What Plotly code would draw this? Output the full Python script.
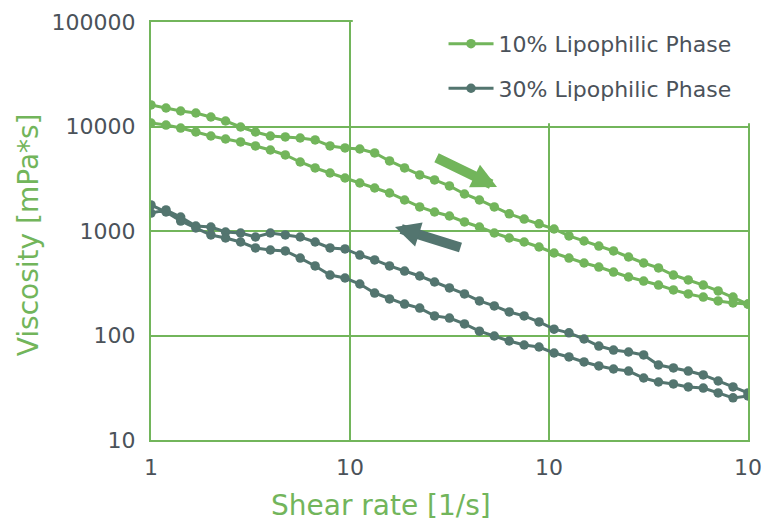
import plotly.graph_objects as go

# Shear rate grid [1/s]
shear_rate = [1, 1.19, 1.41, 1.68, 2, 2.37, 2.82, 3.35, 3.98, 4.73, 5.62, 6.68, 7.94, 9.44,
              11.2, 13.3, 15.8, 18.8, 22.4, 26.6, 31.6, 37.6, 44.7, 53.1, 63.1, 75, 89.1,
              106, 126, 150, 178, 211, 251, 299, 355, 422, 501, 596, 708, 841, 1000]

# 10% lipophilic phase: up sweep and down sweep (viscosity mPa*s)
visc10_up = [16070, 15030, 14070, 13460, 12330, 11290, 9890, 8860, 8110, 7940, 7760, 7430, 6510,
             6230, 6090, 5580, 4680, 4010, 3440, 3080, 2700, 2260, 1980, 1700, 1460, 1300, 1170,
             1045, 896, 802, 718, 644, 564, 494, 443, 379, 340, 304, 267, 233, 200]
visc10_down = [10800, 10330, 9670, 8860, 8110, 7590, 7110, 6510, 5960, 5340, 4575, 4010, 3590,
               3215, 2880, 2580, 2310, 1980, 1700, 1520, 1392, 1220, 1092, 957, 857, 785, 703,
               616, 551, 494, 452, 405, 363, 332, 304, 273, 250, 233, 214, 205, 200]

# 30% lipophilic phase
visc30_up = [1486, 1589, 1361, 1116, 1092, 978, 957, 876, 957, 916, 876, 785, 688, 673, 589,
             528, 463, 414, 371, 325, 285, 250, 214, 192, 168, 154, 135, 115, 106, 92.6, 79.3,
             72.6, 69.5, 65.1, 52.2, 48.9, 45.7, 41.9, 36.7, 32.2, 28.2]
visc30_down = [1774, 1520, 1246, 1068, 916, 857, 785, 688, 658, 644, 551, 463, 379, 355, 311,
               255, 224, 200, 183, 154, 147, 129, 110, 98.9, 88.6, 81.1, 77.6, 68.0, 62.3, 55.8,
               51.1, 47.8, 45.7, 39.2, 35.9, 34.4, 32.2, 31.4, 28.2, 25.3, 26.4]

series_names = ["10% Lipophilic Phase", "30% Lipophilic Phase"]
x_tickvals = [1, 10, 100, 1000]
x_ticktext = ["1", "10", "10", "10"]
y_tickvals = [10, 100, 1000, 10000, 100000]
y_ticktext = ["10", "100", "1000", "10000", "100000"]

GREEN = "#72b55b"
DARK = "#53756f"
GRAY = "#4b525a"
FONT = "DejaVu Sans"

fig = go.Figure()
for name, up, down, col, grp in [(series_names[0], visc10_up, visc10_down, GREEN, "a"),
                                 (series_names[1], visc30_up, visc30_down, DARK, "b")]:
    fig.add_trace(go.Scatter(
        x=shear_rate + shear_rate[::-1],
        y=up + down[::-1],
        mode="lines+markers",
        name=name,
        legendgroup=grp,
        line=dict(color=col, width=3),
        marker=dict(color=col, size=9.5),
    ))

axis_common = dict(type="log", showgrid=True, gridcolor=GREEN, gridwidth=2,
                   showline=True, linecolor=GREEN, linewidth=2, mirror=True,
                   zeroline=False, ticks="", automargin=False,
                   tickfont=dict(family=FONT, size=22, color=GRAY))

fig.update_xaxes(range=[0, 3], tickvals=x_tickvals, ticktext=x_ticktext,
                 ticklabelstandoff=7, **axis_common)
fig.update_yaxes(range=[1, 5], tickvals=y_tickvals, ticktext=y_ticktext,
                 ticklabelstandoff=9, **axis_common)

# white area behind the legend
fig.add_shape(type="rect", xref="paper", yref="paper", x0=0.338, x1=1.1, y0=0.7575, y1=1.1,
              fillcolor="white", line=dict(width=0), layer="above")

annotations = [
    dict(text="Shear rate [1/s]", xref="paper", yref="paper", x=0.385, y=-0.156,
         xanchor="center", yanchor="middle", showarrow=False,
         font=dict(family=FONT, size=28, color=GREEN)),
    dict(text="Viscosity [mPa*s]", xref="paper", yref="paper", x=-0.206, y=0.49,
         xanchor="center", yanchor="middle", showarrow=False, textangle=-90,
         font=dict(family=FONT, size=28, color=GREEN)),
    # sweep direction arrows
    dict(text="", xref="paper", yref="paper", x=0.5796, y=0.6053, ax=-62, ay=-30,
         showarrow=True, arrowhead=2, arrowsize=0.5, arrowwidth=10, arrowcolor=GREEN),
    dict(text="", xref="paper", yref="paper", x=0.4087, y=0.5096, ax=67, ay=21,
         showarrow=True, arrowhead=2, arrowsize=0.5, arrowwidth=10, arrowcolor=DARK),
]

fig.update_layout(
    width=767, height=524,
    margin=dict(l=151, r=19, t=22, b=84, autoexpand=False),
    paper_bgcolor="white", plot_bgcolor="white",
    showlegend=True,
    legend=dict(x=0.49, y=0.998, xanchor="left", yanchor="top",
                bgcolor="rgba(0,0,0,0)", borderwidth=0,
                traceorder="grouped", tracegroupgap=13, itemwidth=45,
                font=dict(family=FONT, size=22, color=GRAY)),
    annotations=annotations,
)

fig.write_html("out.html", config={"displayModeBar": False},
               post_script="document.body.style.margin='0';")
